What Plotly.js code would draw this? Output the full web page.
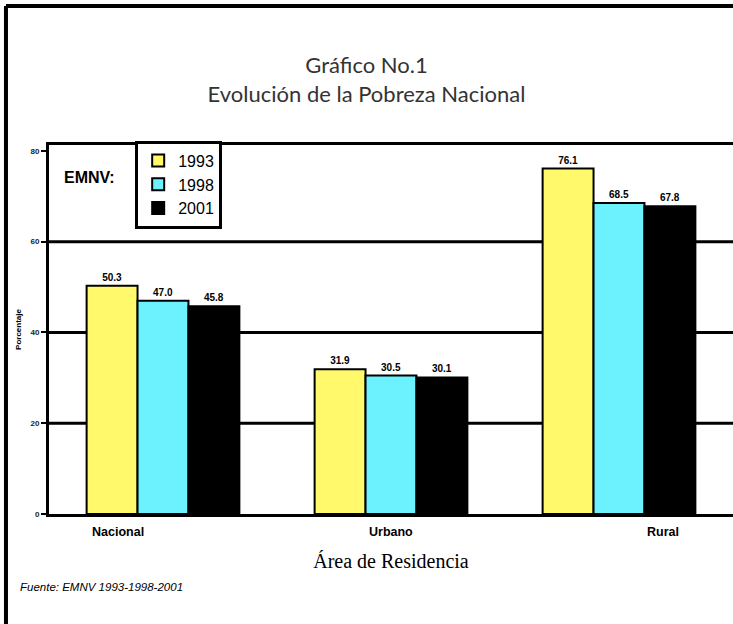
<!DOCTYPE html>
<html>
<head>
<meta charset="utf-8">
<script src="https://cdn.plot.ly/plotly-3.0.1.min.js"></script>
<style>html,body{margin:0;padding:0;background:#fff;}#chart{width:733px;height:624px;}</style>
</head>
<body>
<div id="chart"></div>
<script>
// Data
const categories = ['Nacional', 'Urbano', 'Rural'];
const years = ['1993', '1998', '2001'];
const values1993 = [50.3, 31.9, 76.1];
const values1998 = [47.0, 30.5, 68.5];
const values2001 = [45.8, 30.1, 67.8];
const yTicks = [0, 20, 40, 60, 80];
const gridVals = [20, 40, 60];

const colors = ['#FFF96B', '#6CF2FF', '#000000'];
const series = [values1993, values1998, values2001];

const traces = series.map((vals, i) => ({
  type: 'bar',
  name: years[i],
  x: categories,
  y: vals,
  marker: {color: colors[i], line: {color: '#000', width: 2}},
  texttemplate: '%{y:.1f}',
  textposition: 'outside',
  textfont: {family: 'Arial, Liberation Sans, sans-serif', size: 10, color: '#000', weight: 'bold'},
  cliponaxis: false,
  hoverinfo: 'skip'
}));

// Category label shifts (labels in the original are spread wider than the bar groups)
const labelShift = [-45, 0, 44];

const annotations = categories.map((c, i) => ({
  xref: 'x', yref: 'paper', x: c, y: -0.048, xshift: labelShift[i],
  text: '<b>' + c + '</b>', showarrow: false, yanchor: 'middle',
  font: {family: 'Arial, Liberation Sans, sans-serif', size: 12.5, color: '#000'}
}));
annotations.push({
  xref: 'paper', yref: 'paper', x: 0.019, y: 0.913, xanchor: 'left', yanchor: 'middle',
  text: '<b>EMNV:</b>', showarrow: false,
  font: {family: 'Arial, Liberation Sans, sans-serif', size: 16, color: '#000'}
});
annotations.push({
  xref: 'paper', yref: 'paper', x: -0.045, y: -0.198, xanchor: 'left', yanchor: 'middle',
  text: '<i>Fuente: EMNV 1993-1998-2001</i>', showarrow: false,
  font: {family: 'Arial, Liberation Sans, sans-serif', size: 11.5, color: '#000'}
});

const shapes = gridVals.map(v => ({
  type: 'line', xref: 'paper', yref: 'y', x0: 0, x1: 1, y0: v, y1: v,
  line: {color: '#000', width: 3}, layer: 'below'
}));
// outer frame
shapes.push({type: 'line', xref: 'paper', yref: 'paper', x0: -0.0629, x1: -0.0629, y0: -0.3, y1: 1.3767, line: {color: '#000', width: 4}});
shapes.push({type: 'line', xref: 'paper', yref: 'paper', x0: -0.0629, x1: 1.0, y0: 1.3767, y1: 1.3767, line: {color: '#000', width: 4}});

const layout = {
  width: 733, height: 624,
  margin: {l: 49, r: 0, t: 145, b: 110},
  paper_bgcolor: '#fff', plot_bgcolor: '#fff',
  title: {
    text: 'Gráfico No.1<br>Evolución de la Pobreza Nacional',
    xref: 'container', x: 0.5, xanchor: 'center',
    yref: 'container', y: 0.883, yanchor: 'middle',
    font: {family: 'Lato, Open Sans, sans-serif', size: 22, color: '#333'}
  },
  barmode: 'group',
  bargap: 0.33,
  bargroupgap: 0,
  showlegend: true,
  legend: {
    x: 0.126, xanchor: 'left', y: 1.012, yanchor: 'top',
    bordercolor: '#000', borderwidth: 3, bgcolor: '#fff',
    font: {family: 'Arial, Liberation Sans, sans-serif', size: 16, color: '#000'},
    tracegroupgap: 0
  },
  xaxis: {
    type: 'category',
    showticklabels: false,
    ticks: '',
    showline: true, linecolor: '#000', linewidth: 3, mirror: true,
    showgrid: false, zeroline: false,
    title: {text: 'Área de Residencia', standoff: 38,
      font: {family: 'Liberation Serif, Times New Roman, serif', size: 20, color: '#000'}}
  },
  yaxis: {
    range: [0, 81.3],
    tickvals: yTicks,
    ticks: 'outside', ticklen: 5, tickwidth: 2, tickcolor: '#000',
    showline: true, linecolor: '#000', linewidth: 3,
    showgrid: false, zeroline: false,
    tickfont: {family: 'Arial, Liberation Sans, sans-serif', size: 8, color: '#222', weight: 'bold'},
    title: {text: 'Porcentaje', standoff: 8,
      font: {family: 'Arial, Liberation Sans, sans-serif', size: 8, color: '#000', weight: 'bold'}}
  },
  annotations: annotations,
  shapes: shapes
};

Plotly.newPlot('chart', traces, layout, {displayModeBar: false, staticPlot: true});
</script>
</body>
</html>
